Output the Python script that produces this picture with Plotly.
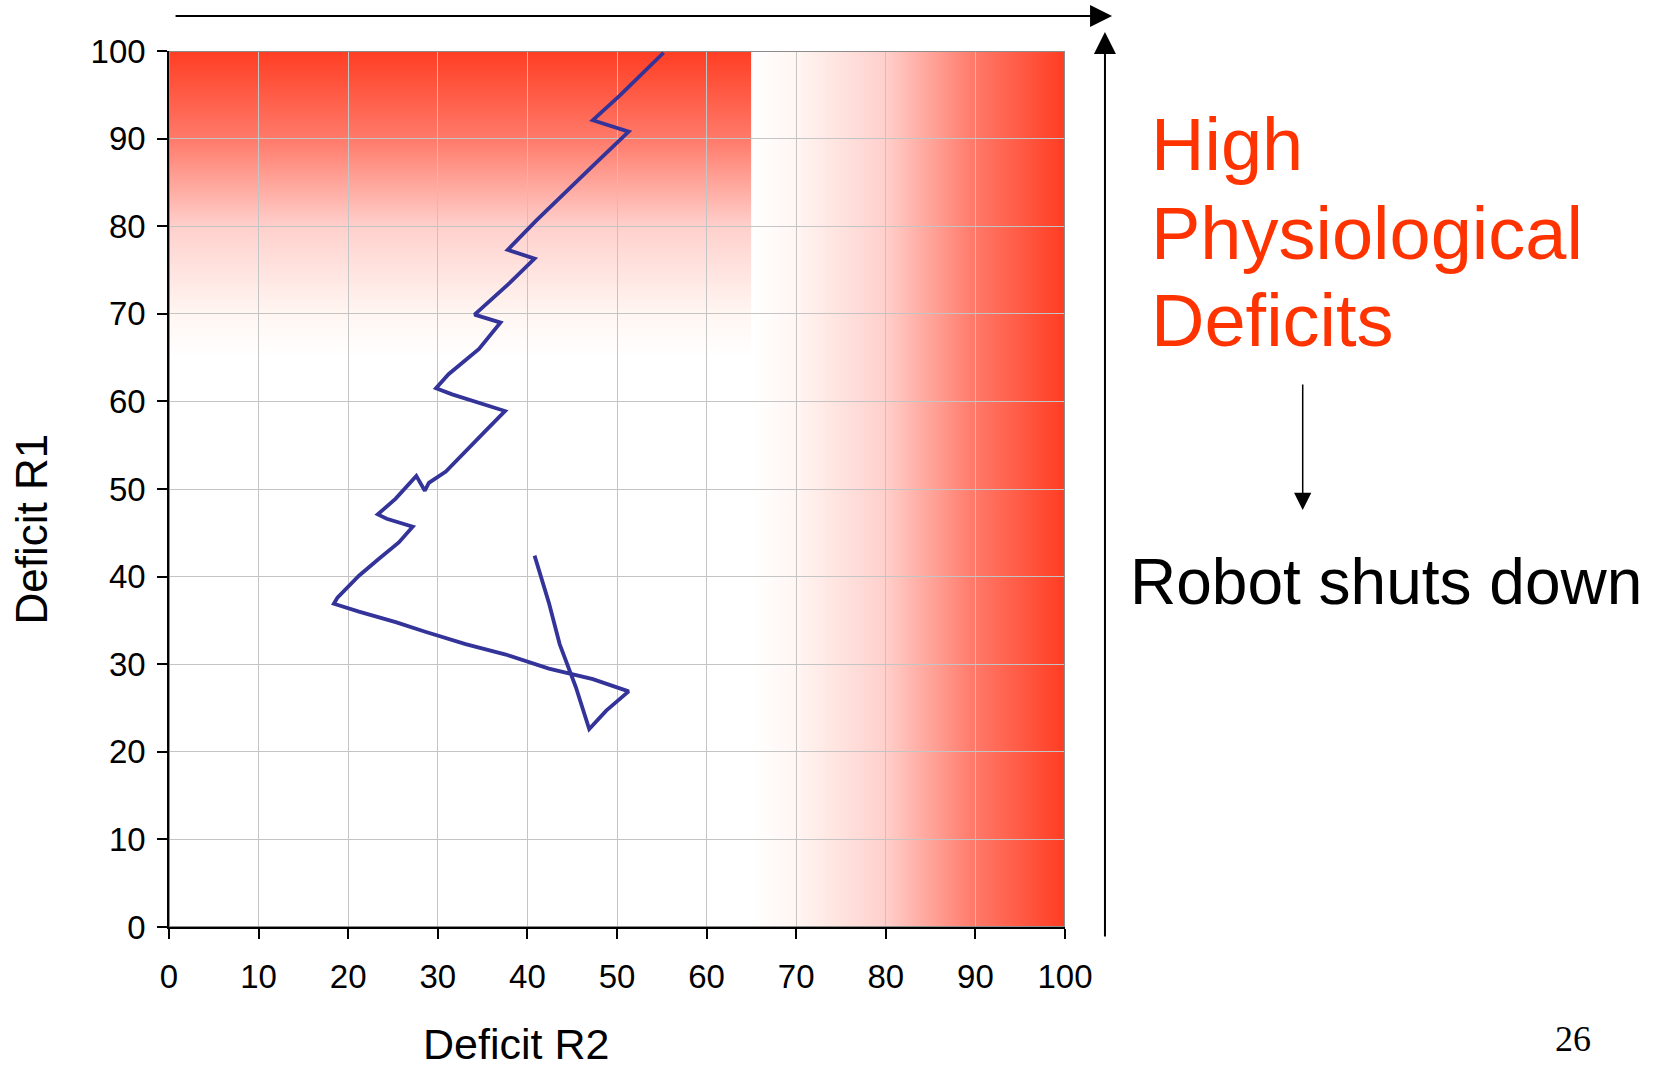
import base64
import plotly.graph_objects as go

# Trajectory of the robot in deficit space (R2 on x, R1 on y)
deficit_r2 = [55.2, 50.3, 47.3, 51.3, 47.3, 43.9, 40.95, 37.8, 40.8, 38.0, 34.1, 37.0,
              34.6, 31.2, 29.8, 31.6, 37.5, 35.3, 32.7, 30.9, 29.0, 28.55, 27.6, 26.6,
              25.3, 23.3, 24.3, 27.2, 25.65, 23.4, 21.2, 18.8, 18.4, 21.2, 25.3, 28.6,
              33.1, 37.6, 42.4, 47.3, 51.3, 48.8, 46.9, 45.4, 43.6, 42.4, 40.8]
deficit_r1 = [99.8, 94.9, 92.1, 90.8, 86.9, 83.6, 80.6, 77.3, 76.3, 73.5, 69.9, 69.0,
              66.0, 63.1, 61.5, 60.8, 58.9, 56.6, 53.9, 52.0, 50.7, 49.8, 51.5, 50.3,
              48.9, 47.1, 46.6, 45.7, 43.9, 42.0, 40.1, 37.6, 36.9, 36.0, 34.8, 33.7,
              32.3, 31.1, 29.5, 28.3, 26.9, 24.7, 22.6, 27.4, 32.3, 37.0, 42.4]

tick_values = [0, 10, 20, 30, 40, 50, 60, 70, 80, 90, 100]
tick_labels = [str(v) for v in tick_values]

# Danger zones: high R1 deficit (top band) and high R2 deficit (right band)
danger_threshold = 65
axis_max = 100

FONT = "Liberation Sans, Arial, sans-serif"
RED = "#FF3300"

# white -> red ramp used by both danger zones
ramp = [(0.0, "#FFFFFF"), (0.14, "#FFF6F2"), (0.42, "#FFD0CC"),
        (0.70, "#FF7A6A"), (1.0, "#FF3A1F")]


def gradient_svg(horizontal):
    x1, y1, x2, y2 = ("0", "0", "1", "0") if horizontal else ("0", "1", "0", "0")
    stops = "".join(f"<stop offset='{o}' stop-color='{c}'/>" for o, c in ramp)
    svg = (
        "<svg xmlns='http://www.w3.org/2000/svg' width='100' height='100' "
        "viewBox='0 0 100 100' preserveAspectRatio='none'>"
        f"<defs><linearGradient id='g' x1='{x1}' y1='{y1}' x2='{x2}' y2='{y2}'>"
        f"{stops}</linearGradient></defs>"
        "<rect x='0' y='0' width='100' height='100' fill='url(#g)'/></svg>"
    )
    return "data:image/svg+xml;base64," + base64.b64encode(svg.encode()).decode()


fig = go.Figure()

fig.add_trace(go.Scatter(
    x=deficit_r2, y=deficit_r1, mode="lines",
    line=dict(color="#333399", width=3.8),
    showlegend=False, hoverinfo="skip",
))

fig.add_layout_image(dict(
    source=gradient_svg(horizontal=False), xref="x", yref="y",
    x=-0.3, y=axis_max + 0.6, sizex=danger_threshold + 0.3,
    sizey=axis_max + 0.6 - danger_threshold,
    xanchor="left", yanchor="top", sizing="stretch", layer="below",
))
fig.add_layout_image(dict(
    source=gradient_svg(horizontal=True), xref="x", yref="y",
    x=danger_threshold, y=axis_max + 0.6, sizex=axis_max + 0.4 - danger_threshold,
    sizey=axis_max + 0.6,
    xanchor="left", yanchor="top", sizing="stretch", layer="below",
))

# grey plot-area frame on the top and right edges
fig.add_shape(type="rect", xref="x", yref="y", x0=0, y0=0, x1=axis_max, y1=axis_max,
              line=dict(color="#8C8C8C", width=2), layer="between")

axis_common = dict(
    range=[0, axis_max], tickvals=tick_values, ticktext=tick_labels,
    showgrid=True, gridcolor="#C4C4C4", gridwidth=1,
    showline=True, linecolor="black", linewidth=1.5,
    ticks="outside", ticklen=10, tickwidth=1.5, tickcolor="black",
    tickfont=dict(family=FONT, size=33, color="black"),
    zeroline=False, fixedrange=True,
)
fig.update_xaxes(**axis_common, ticklabelstandoff=10)
fig.update_yaxes(**axis_common, ticklabelstandoff=5)

annotations = [
    # axis titles
    dict(text="Deficit R2", x=0.3873, y=-0.1336, font=dict(size=43)),
    dict(text="Deficit R1", x=-0.1532, y=0.4547, textangle=-90, font=dict(size=44)),
    # side labels
    dict(text="High", x=1.0941, y=0.8927, xanchor="left", font=dict(size=74, color=RED)),
    dict(text="Physiological", x=1.0941, y=0.7911, xanchor="left", font=dict(size=74, color=RED)),
    dict(text="Deficits", x=1.0941, y=0.6918, xanchor="left", font=dict(size=74, color=RED)),
    dict(text="Robot shuts down", x=1.0705, y=0.3938, xanchor="left", font=dict(size=64)),
    dict(text="26", x=1.5672, y=-0.1283,
         font=dict(size=36, family="Liberation Serif, Times New Roman, serif")),
]
for a in annotations:
    font = dict(family=FONT, color="black")
    font.update(a.pop("font"))
    fig.add_annotation(xref="paper", yref="paper", showarrow=False,
                       xanchor=a.pop("xanchor", "center"), yanchor="middle",
                       font=font, **a)

# arrows: along the top, up the right side, and from the label down to the outcome
arrows = [
    dict(x=1.0525, y=1.040, ax=-938, ay=0, arrowwidth=2, arrowsize=2.2),
    dict(x=1.0446, y=1.0217, ax=0, ay=906, arrowwidth=2, arrowsize=2.2),
    dict(x=1.2653, y=0.476, ax=0, ay=-127, arrowwidth=1.5, arrowsize=2.3),
]
for a in arrows:
    fig.add_annotation(xref="paper", yref="paper", axref="pixel", ayref="pixel",
                       text="", showarrow=True, arrowhead=2, arrowcolor="black", **a)

fig.update_layout(
    width=1658, height=1069,
    margin=dict(l=169, r=593, t=51, b=142),
    paper_bgcolor="white", plot_bgcolor="white",
    showlegend=False,
)

fig.write_html("out.html", config={"displayModeBar": False})
